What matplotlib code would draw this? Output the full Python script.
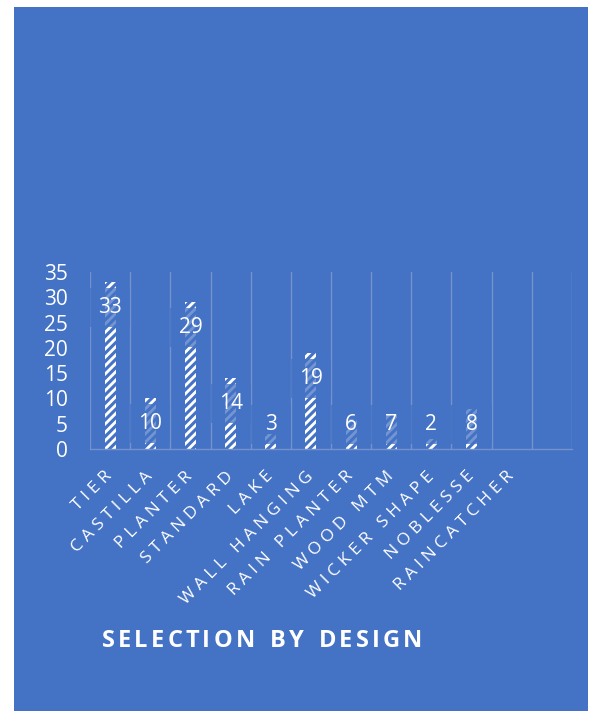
import numpy as np
import matplotlib.pyplot as plt
from matplotlib.patches import Rectangle

plt.rcParams["font.family"] = ["Open Sans", "DejaVu Sans"]
plt.rcParams["hatch.linewidth"] = 2.2

BLUE = "#4472C4"
GRID = "#7592CF"

designs = [
    "TIER", "CASTILLA", "PLANTER", "STANDARD", "LAKE", "WALL HANGING",
    "RAIN PLANTER", "WOOD MTM", "WICKER SHAPE", "NOBLESSE", "RAINCATCHER", "",
]
counts = [33, 10, 29, 14, 3, 19, 6, 7, 2, 8]
y_ticks = [0, 5, 10, 15, 20, 25, 30, 35]
title = "SELECTION BY DESIGN"


def track(s):
    # loosen letter spacing with thin + hair spaces
    return "\u2009\u200a".join(s)


def spaced_text(fig, xc, y, s, tracking, **kw):
    """Draw s centred on xc (figure px) with extra space between letters."""
    r = fig.canvas.get_renderer()
    widths = []
    for ch in s:
        t = fig.text(0, 0, ch if ch != " " else "n", **kw)
        widths.append(t.get_window_extent(r).width * (0.55 if ch == " " else 1))
        t.remove()
    total = sum(widths) + tracking * (len(s) - 1)
    xpos = xc - total / 2
    W, H = fig.bbox.width, fig.bbox.height
    for ch, w in zip(s, widths):
        if ch != " ":
            fig.text(xpos / W, 1 - y / H, ch, ha="left", va="center", **kw)
        xpos += w + tracking


fig = plt.figure(figsize=(5.96, 7.11), dpi=100, facecolor="white")
# blue card behind everything
fig.patches.append(Rectangle((14 / 596, 0), 574 / 596, 704 / 711,
                             transform=fig.transFigure, facecolor=BLUE,
                             edgecolor="none", zorder=-5))

ax = fig.add_axes([90 / 596, 1 - 449 / 711, 482 / 596, 177 / 711])
ax.set_facecolor("none")
ax.set_zorder(2)

x = np.arange(len(counts))
ax.bar(x, counts, width=0.27, color="white", edgecolor=BLUE, hatch="////",
       linewidth=0, zorder=2)

# data labels sit in a translucent box inside the top of each bar
for xi, v in zip(x, counts):
    yc = max(v - 5.0, 4.9)
    ax.add_patch(Rectangle((xi - 0.5, yc - 3.85), 1.0, 7.7, facecolor=BLUE,
                           alpha=0.75, edgecolor="none", zorder=3))
    ax.text(xi, yc, str(v), ha="center", va="center", color="white",
            fontsize=15, zorder=4)

ax.set_xlim(-0.5, len(designs) - 0.5)
ax.set_ylim(0, 35)
ax.set_yticks(y_ticks)
ax.set_xticks(np.arange(len(designs)))
ax.set_xticklabels([track(d) for d in designs])
ax.set_xticks(np.arange(-0.5, len(designs)), minor=True)
ax.grid(which="minor", axis="x", color=GRID, linewidth=1.0, zorder=1)
ax.grid(which="major", visible=False)

for side in ("top", "right", "left"):
    ax.spines[side].set_visible(False)
ax.spines["bottom"].set_color(GRID)
ax.spines["bottom"].set_linewidth(1.0)

ax.tick_params(axis="y", length=0, pad=16, labelsize=15, labelcolor="white")
ax.tick_params(axis="x", which="both", length=0)
ax.tick_params(axis="x", which="major", pad=18, labelsize=12.5,
               labelcolor="white")
plt.setp(ax.get_xticklabels(), rotation=45, ha="right", va="center",
         rotation_mode="anchor")

spaced_text(fig, 262, 641, title, 3.2, color="white", fontsize=17,
            fontweight="bold")

fig.savefig("out.png", dpi=100, facecolor="white")
